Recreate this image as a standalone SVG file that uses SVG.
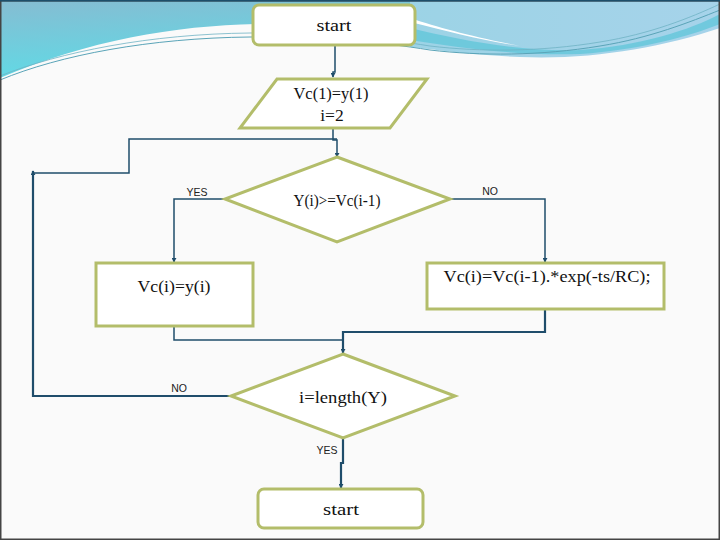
<svg xmlns="http://www.w3.org/2000/svg" width="720" height="540" viewBox="0 0 720 540">
<defs>
<linearGradient id="tealL" x1="0" y1="0" x2="0.3" y2="1">
<stop offset="0" stop-color="#86bcd2"/>
<stop offset="1" stop-color="#5fdbe6"/>
</linearGradient>
<linearGradient id="tealR" x1="0" y1="0" x2="1" y2="0">
<stop offset="0" stop-color="#8fd3e0"/>
<stop offset="1" stop-color="#a6d3ea"/>
</linearGradient>
<marker id="arr" viewBox="0 0 6 6" refX="5" refY="3" markerWidth="5" markerHeight="5" orient="auto" markerUnits="userSpaceOnUse">
<path d="M0,0 L6,3 L0,6 Z" fill="#1f4d6b"/>
</marker>
<style>
.node{fill:#ffffff;stroke:#b3bd6a;stroke-width:3}
.txt{font-family:"Liberation Serif","DejaVu Serif",serif;font-size:17.5px;fill:#111;text-anchor:middle}
.lbl{font-family:"Liberation Sans","DejaVu Sans",sans-serif;font-size:10.5px;fill:#222;text-anchor:middle}
.con{fill:none;stroke:#1f4d6b;stroke-width:1.5}
.thick{stroke-width:2.2}
</style>
</defs>
<g id="background">
<rect x="0" y="0" width="720" height="540" fill="#fafafa"/>
<path d="M0,0 H720 V28 C660,48 590,60 520,57 C470,55 440,50 410,47 L410,0 Z" fill="url(#tealR)"/>
<path d="M410,22 C450,32 480,40 520,46 C470,36 440,28 410,18 Z" fill="#ffffff"/>
<path d="M410,28 C460,40 520,52 580,50 C640,46 690,30 720,14 L720,24 C690,36 640,50 580,54 C520,56 460,48 410,40 Z" fill="#4fc3d6" opacity="0.6"/>
<path d="M0,0 H410 V46 C370,34 330,26 290,24 C200,22 100,35 0,78 Z" fill="url(#tealL)"/>
<path d="M0,80 C60,55 150,38 250,37 C320,36 380,42 430,50 C480,56 540,56 600,46 C650,38 690,22 720,10" fill="none" stroke="#5aa4b8" stroke-width="1"/>
<path d="M0,76 C60,52 150,34 250,33 C320,32 380,38 430,46 C480,52 540,52 600,42 C650,34 690,18 720,4" fill="none" stroke="#6fb3c4" stroke-width="0.8"/>
<rect x="0.75" y="0.75" width="718.5" height="538.5" fill="none" stroke="#444" stroke-width="1.5"/>
<line x1="0" y1="0.75" x2="720" y2="0.75" stroke="#1d4e6a" stroke-width="1.5"/>
</g>
<g id="connectors">
<path class="con" d="M335,45 V72 H333 V77" marker-end="url(#arr)"/>
<path class="con" d="M333,128 V140 H337 V157" marker-end="url(#arr)"/>
<path class="con thick" d="M231,396 H33 V171" marker-end="url(#arr)"/>
<path class="con" d="M33,173 H129 V139 H337"/>
<path class="con" d="M225,199 H174 V262" marker-end="url(#arr)"/>
<path class="con" d="M450,199 H545 V262" marker-end="url(#arr)"/>
<path class="con" d="M174,326 V340 H343"/>
<path class="con thick" d="M545,309 V332 H343 V353" marker-end="url(#arr)"/>
<path class="con thick" d="M343,438 V463 H341 V488" marker-end="url(#arr)"/>
</g>
<g id="labels">
<text class="lbl" x="197" y="196">YES</text>
<text class="lbl" x="490" y="195">NO</text>
<text class="lbl" x="179" y="392">NO</text>
<text class="lbl" x="327" y="454">YES</text>
</g>
<g id="start">
<rect class="node" x="253" y="5" width="162" height="40" rx="6"/>
<text class="txt" x="334" y="31" textLength="35" lengthAdjust="spacingAndGlyphs">start</text>
</g>
<g id="init">
<polygon class="node" points="277,79 427,79 390,128 240,128"/>
<text class="txt" x="331" y="99" textLength="75" lengthAdjust="spacingAndGlyphs">Vc(1)=y(1)</text>
<text class="txt" x="332" y="121">i=2</text>
</g>
<g id="compare">
<polygon class="node" points="337,157 450,199 337,242 225,199"/>
<text class="txt" x="337" y="206" textLength="87" lengthAdjust="spacingAndGlyphs">Y(i)&gt;=Vc(i-1)</text>
</g>
<g id="assignY">
<rect class="node" x="96" y="263" width="157" height="63"/>
<text class="txt" x="174" y="292" textLength="73" lengthAdjust="spacingAndGlyphs">Vc(i)=y(i)</text>
</g>
<g id="decay">
<rect class="node" x="427" y="263" width="237" height="46"/>
<text class="txt" x="547" y="282" textLength="207" lengthAdjust="spacingAndGlyphs">Vc(i)=Vc(i-1).*exp(-ts/RC);</text>
</g>
<g id="endcheck">
<polygon class="node" points="343,354 455,396 343,438 231,396"/>
<text class="txt" x="343" y="403" textLength="88" lengthAdjust="spacingAndGlyphs">i=length(Y)</text>
</g>
<g id="end">
<rect class="node" x="258" y="489" width="165" height="39" rx="6"/>
<text class="txt" x="341" y="515" textLength="36" lengthAdjust="spacingAndGlyphs">start</text>
</g>
</svg>
